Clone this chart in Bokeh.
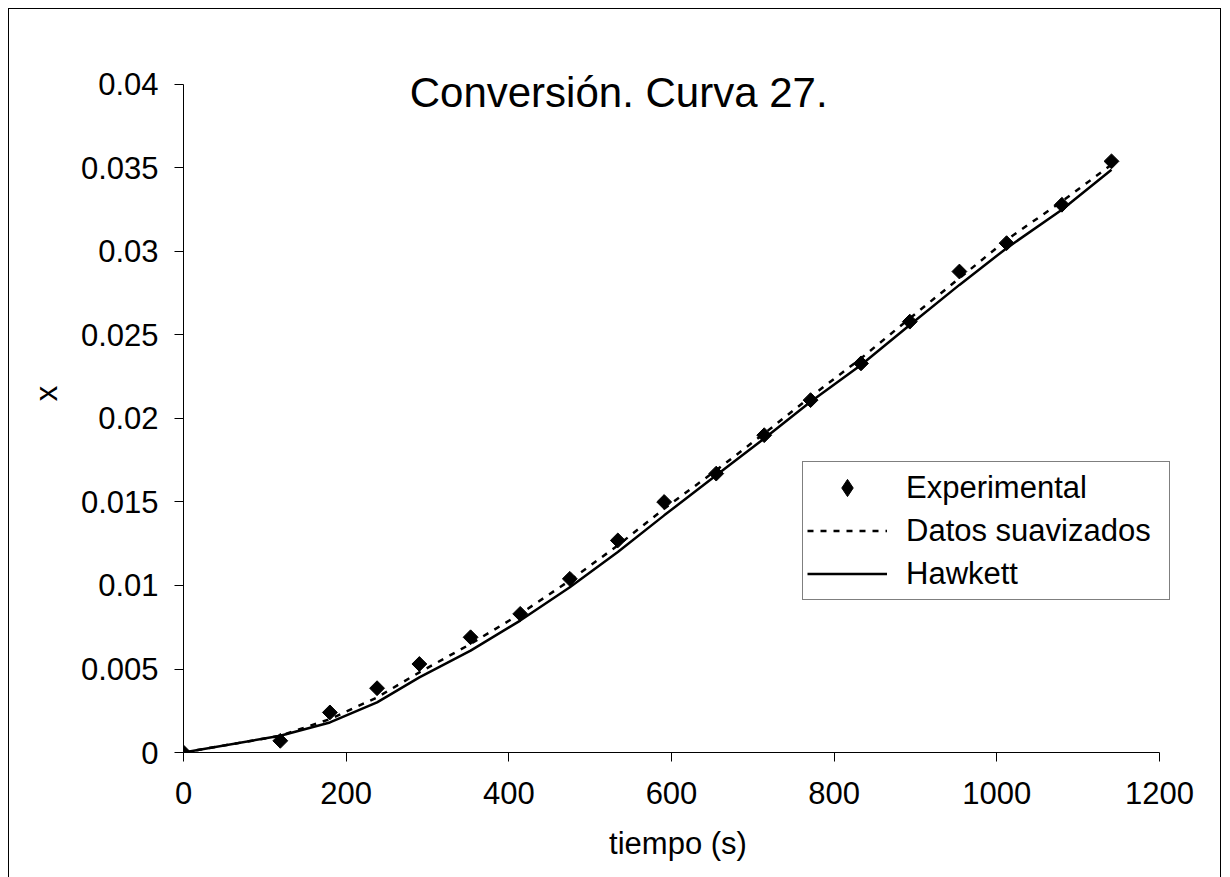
import numpy as np
from bokeh.plotting import figure
from bokeh.models import Range1d, Label, Legend, LegendItem, FixedTicker, InlineStyleSheet
from bokeh.embed import file_html
from bokeh.resources import INLINE

# Conversion vs time, run 27
tiempo = [0, 119, 180, 238, 290, 353, 414, 475, 534, 591, 655, 714, 771, 833, 893, 954, 1012, 1080, 1141]
x_experimental = [0, 0.0007, 0.0024, 0.00385, 0.0053, 0.0069, 0.0083, 0.0104, 0.0127, 0.0150,
                  0.0167, 0.0190, 0.0211, 0.0233, 0.0258, 0.0288, 0.0305, 0.0328, 0.0354]
x_suavizados = [0, 0.0010, 0.0020, 0.0033, 0.0048, 0.0065, 0.0083, 0.0103, 0.0124, 0.0146,
                0.0169, 0.0191, 0.0213, 0.0236, 0.0260, 0.0284, 0.0307, 0.0330, 0.0352]
x_hawkett = [0, 0.0010, 0.0018, 0.0030, 0.0045, 0.0061, 0.0079, 0.0099, 0.0120, 0.0142,
             0.0166, 0.0188, 0.0210, 0.0232, 0.0256, 0.0280, 0.0302, 0.0325, 0.0349]

x_ticks = [0, 200, 400, 600, 800, 1000, 1200]
y_ticks = [0, 0.005, 0.01, 0.015, 0.02, 0.025, 0.03, 0.035, 0.04]
y_tick_labels = ["0", "0.005", "0.01", "0.015", "0.02", "0.025", "0.03", "0.035", "0.04"]

FONT = "Liberation Sans"

# the frame reaches a little past 1200 (room for the legend) and above 0.04 (room for
# the title); the axis lines are bounded to the data extent
p = figure(width=1230, height=877, output_backend="svg", toolbar_location=None,
           x_range=Range1d(0, 1216), y_range=Range1d(0, 0.042994),
           min_border_left=183, min_border_right=58, min_border_top=34, min_border_bottom=125)
p.outline_line_color = None
p.xgrid.visible = False
p.ygrid.visible = False
p.background_fill_color = "white"
p.border_fill_color = "white"

for ax in (p.xaxis[0], p.yaxis[0]):
    ax.axis_line_color = "black"
    ax.axis_line_width = 1
    ax.major_tick_line_color = "black"
    ax.major_tick_out = 9
    ax.major_tick_in = 0
    ax.minor_tick_out = 0
    ax.minor_tick_in = 0
    ax.major_label_text_font = FONT
    ax.major_label_text_font_size = "31px"
    ax.major_label_text_color = "black"
    ax.axis_label_text_font = FONT
    ax.axis_label_text_font_size = "31px"
    ax.axis_label_text_font_style = "normal"
    ax.axis_label_text_color = "black"

p.xaxis[0].bounds = (0, 1200)
p.yaxis[0].bounds = (0, 0.04)
p.xaxis[0].ticker = FixedTicker(ticks=x_ticks)
p.yaxis[0].ticker = FixedTicker(ticks=y_ticks)
p.yaxis[0].major_label_overrides = {t: s for t, s in zip(y_ticks, y_tick_labels)}
p.xaxis[0].axis_label = "tiempo (s)"
p.yaxis[0].axis_label = "x"
p.xaxis[0].major_label_standoff = 20
p.yaxis[0].major_label_standoff = 16
p.xaxis[0].axis_label_standoff = 19
p.yaxis[0].axis_label_standoff = 14

r_haw = p.line(tiempo, x_hawkett, line_color="black", line_width=2.5)
r_suav = p.line(tiempo, x_suavizados, line_color="black", line_width=2.5, line_dash="6 7")
r_exp = p.scatter(tiempo, x_experimental, marker="square", angle=np.pi / 4, size=10.5,
                  fill_color="black", line_color="black")
# legend key for the experimental series (its single point lies outside the visible ranges)
r_key = p.scatter(x=[-1000], y=[-1], marker="diamond", fill_color="black", line_color="black")

legend = Legend(items=[
    LegendItem(label="Experimental", renderers=[r_key]),
    LegendItem(label="Datos suavizados", renderers=[r_suav]),
    LegendItem(label="Hawkett", renderers=[r_haw]),
], location=(619, 152))
legend.label_text_font = FONT
legend.label_text_font_size = "31px"
legend.label_text_color = "black"
legend.glyph_width = 80
legend.glyph_height = 43
legend.label_height = 43
legend.label_width = 259
legend.label_standoff = 19
legend.spacing = 0
legend.padding = 4
legend.margin = 0
legend.border_line_color = "black"
legend.border_line_width = 1
legend.background_fill_color = "white"
legend.background_fill_alpha = 1
p.add_layout(legend)

title = Label(x=535, y=0.03954, text="Conversión. Curva 27.", text_font=FONT,
              text_font_size="42px", text_align="center", text_baseline="alphabetic",
              text_color="black")
p.add_layout(title)

# thin outer border around the chart area
p.stylesheets = [InlineStyleSheet(css="""
:host::after {
  content: "";
  position: absolute;
  left: 8px;
  top: 8px;
  width: 1213px;
  height: 869px;
  box-sizing: border-box;
  border-top: 1px solid #000;
  border-left: 1px solid #000;
  border-right: 1px solid #000;
  pointer-events: none;
  z-index: 100;
}
""")]

open("out.html", "w").write(file_html(p, INLINE))
